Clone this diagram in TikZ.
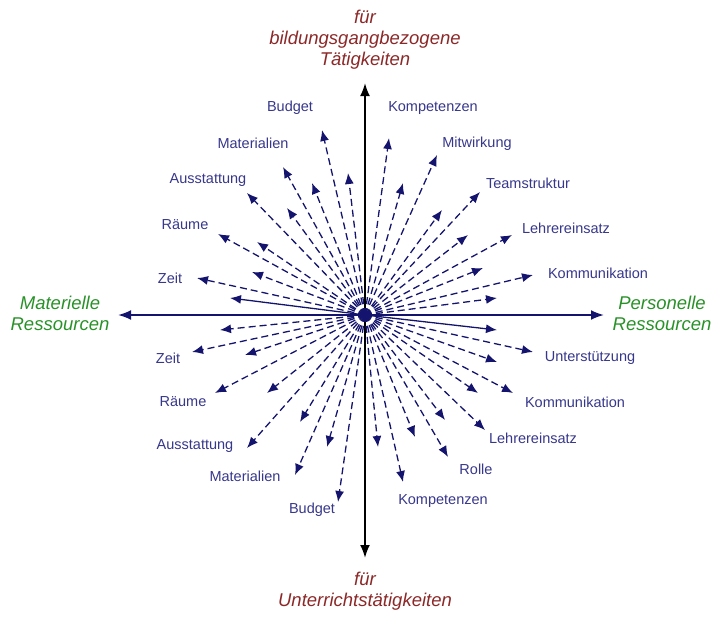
\documentclass[tikz,border=0pt]{standalone}
\usepackage{fontspec}
\setmainfont{Liberation Sans}
\usetikzlibrary{arrows.meta}
\definecolor{navy}{RGB}{20,20,110}
\definecolor{lbl}{RGB}{55,55,140}
\definecolor{dred}{RGB}{140,40,40}
\definecolor{dgreen}{RGB}{40,145,40}
\tikzset{
 ray/.style={navy, line width=1.3pt, dash pattern=on 7pt off 4pt, -{Latex[length=11pt,width=9pt]}},
 sray/.style={navy, line width=1.3pt, -{Latex[length=11pt,width=9pt]}},
 lab/.style={lbl, font=\fontsize{14.5}{16}\selectfont, inner sep=0pt},
 axlab/.style={font=\fontsize{18.5}{21}\selectfont\itshape, align=center, inner sep=0pt},
}
\begin{document}
\begin{tikzpicture}[x=1pt,y=-1pt]
\useasboundingbox (0,0) rectangle (720,618);
\coordinate (c) at (365,315);
\coordinate (top) at (365,83);
\coordinate (bot) at (365,558);
\coordinate (left) at (118,315);
\coordinate (right) at (604,315);
\draw[line width=2pt,{Latex[length=13pt,width=10pt]}-{Latex[length=13pt,width=10pt]}] (bot) -- (top);
\draw[navy,line width=2pt,{Latex[length=13pt,width=10pt]}-{Latex[length=13pt,width=10pt]}] (left) -- (right);
% dashed rays
\foreach \n/\p in {a1/{322,130},a2/{348,173},a3/{283,167},a4/{312,183},a5/{247,193},a6/{287,208},a7/{218,234},a8/{257,242},a9/{252,272},a10/{197,278},
 b1/{389,138},b2/{403,183},b3/{437,155},b4/{442,210},b5/{480,192},b6/{468,235},b7/{512,235},b8/{483,268},b9/{533,275},b10/{497,298},
 c1/{220,330},c2/{192,352},c3/{245,355},c4/{215,393},c5/{267,393},c6/{247,448},c7/{300,422},c8/{295,475},c9/{327,447},c10/{338,502},
 d2/{533,352},d3/{497,362},d4/{513,393},d5/{478,393},d6/{485,430},d7/{445,420},d8/{448,457},d9/{415,437},d10/{403,482},d11/{378,447}}
 {\coordinate (\n) at (\p); \draw[ray] (c) -- (\n);}
\coordinate (s1) at (230,298);
\coordinate (s2) at (497,330);
\draw[sray] (c) -- (s1);
\draw[sray] (c) -- (s2);
% labels
\node[lab] (l1) at (290,108) {Budget};
\node[lab] (l2) at (253,143) {Materialien};
\node[lab] (l3) at (208,180) {Ausstattung};
\node[lab] (l4) at (185,225) {Räume};
\node[lab] (l5) at (170,278) {Zeit};
\node[lab] (r1) at (433,108) {Kompetenzen};
\node[lab] (r2) at (477,144) {Mitwirkung};
\node[lab] (r3) at (528,183) {Teamstruktur};
\node[lab] (r4) at (566,228) {Lehrereinsatz};
\node[lab] (r5) at (598,273) {Kommunikation};
\node[lab] (m1) at (168,358) {Zeit};
\node[lab] (m2) at (183,402) {Räume};
\node[lab] (m3) at (195,446) {Ausstattung};
\node[lab] (m4) at (245,476) {Materialien};
\node[lab] (m5) at (312,510) {Budget};
\node[lab] (n1) at (590,358) {Unterstützung};
\node[lab] (n2) at (575,402) {Kommunikation};
\node[lab] (n3) at (533,438) {Lehrereinsatz};
\node[lab] (n4) at (476,469) {Rolle};
\node[lab] (n5) at (443,501) {Kompetenzen};
\node[axlab,dred] (tl) at (365,40) {für\\bildungsgangbezogene\\Tätigkeiten};
\node[axlab,dred] (bl) at (365,591) {für\\Unterrichtstätigkeiten};
\node[axlab,dgreen] (ml) at (60,313) {Materielle\\Ressourcen};
\node[axlab,dgreen] (pl) at (662,313) {Personelle\\Ressourcen};
\end{tikzpicture}
\end{document}
